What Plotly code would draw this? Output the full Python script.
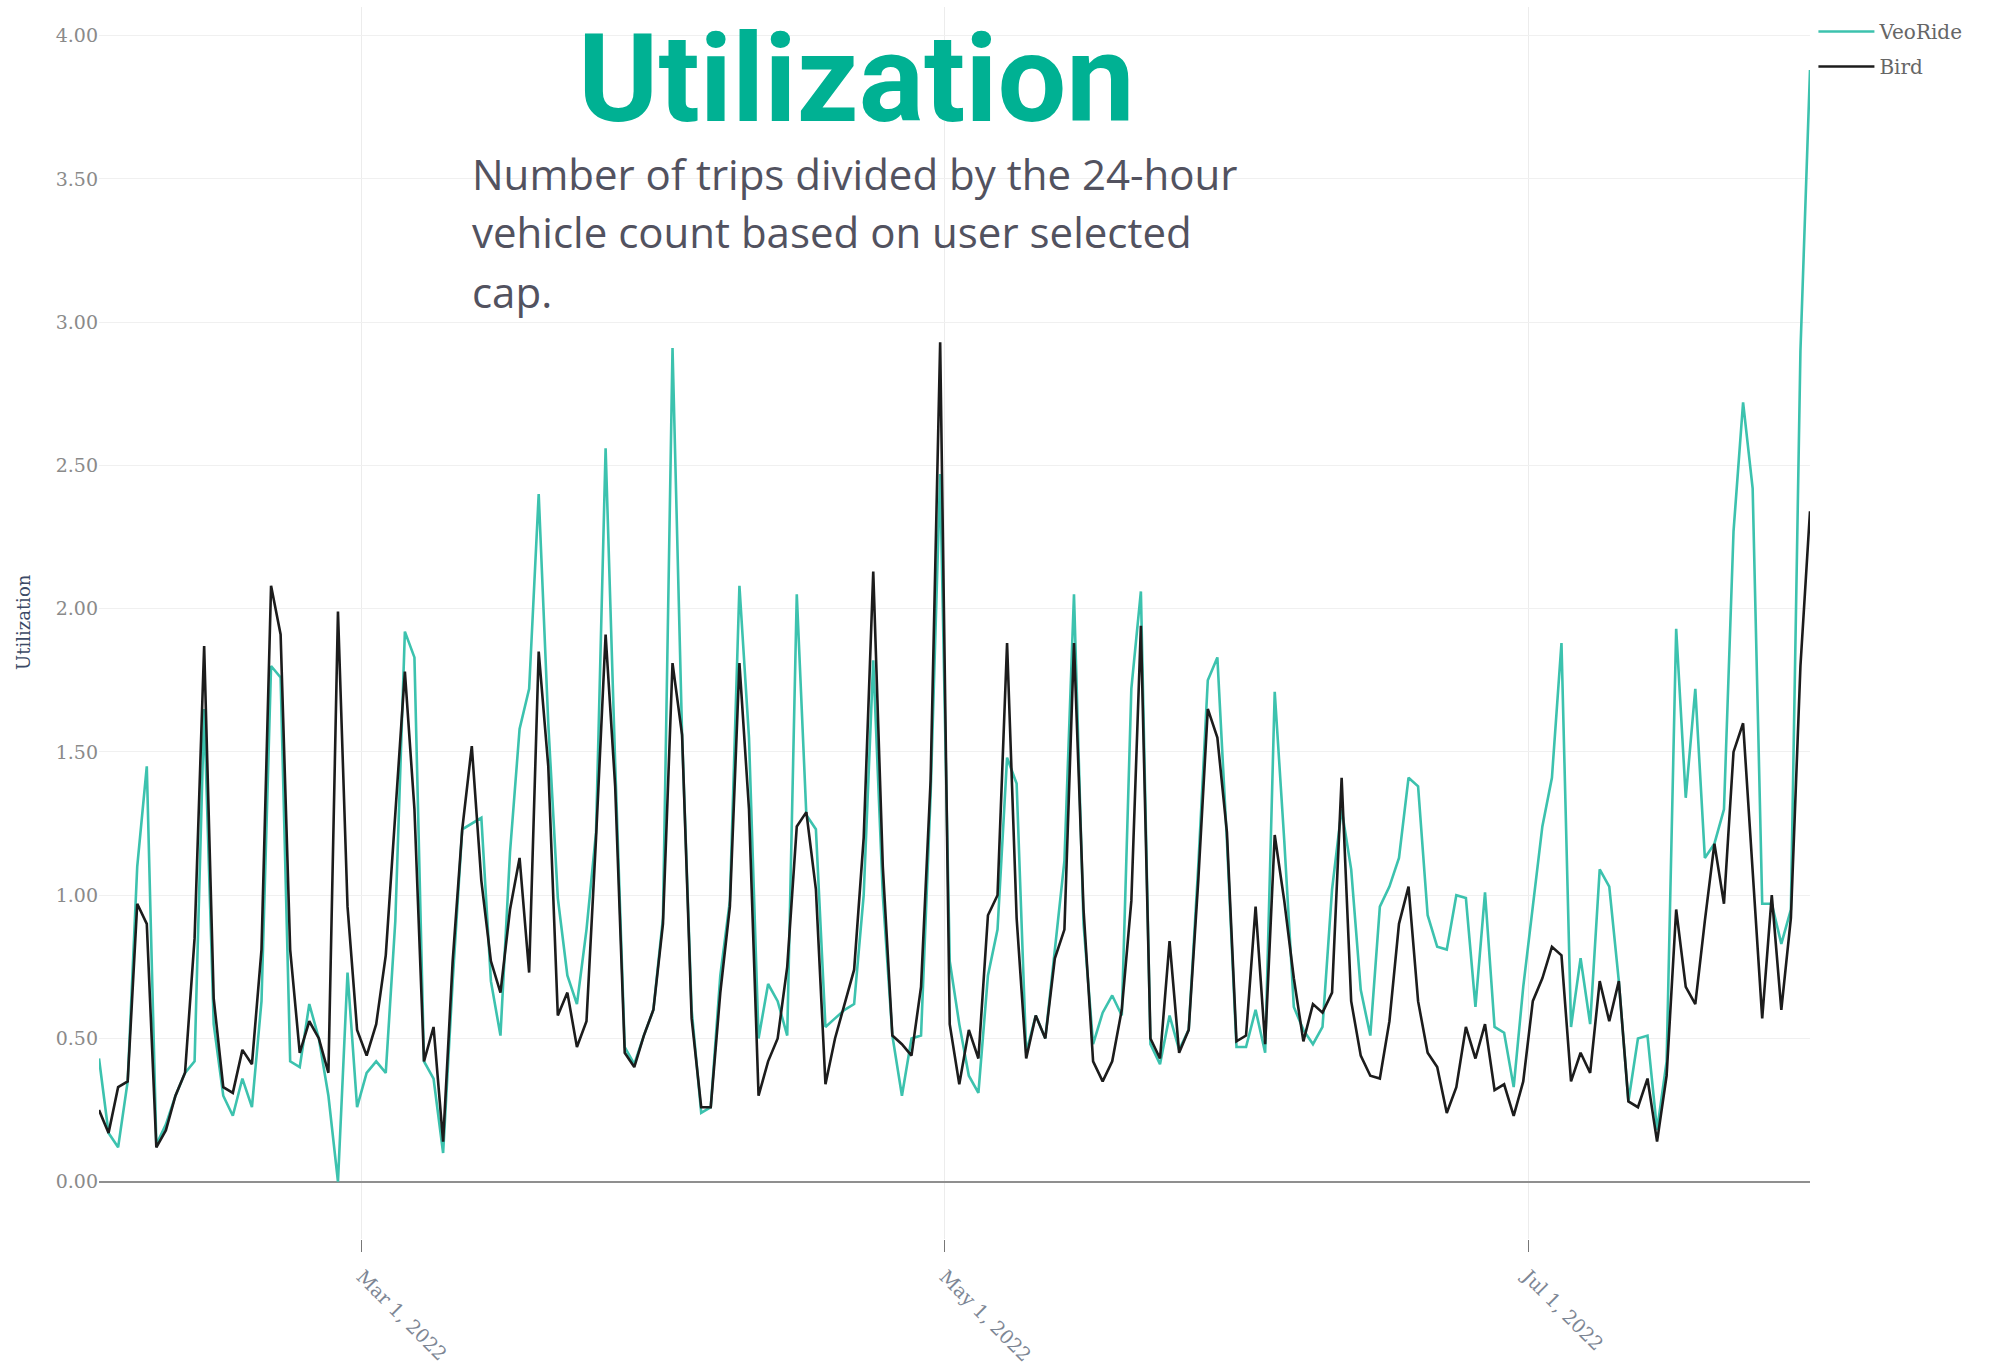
import plotly.graph_objects as go
import pandas as pd

# ---------------- data ----------------
start_date = "2022-02-01 12:00"

veoride = [0.43, 0.17, 0.12, 0.35, 1.10, 1.45, 0.13, 0.20, 0.30, 0.38,
           0.42, 1.65, 0.55, 0.30, 0.23, 0.36, 0.26, 0.63, 1.80, 1.76,
           0.42, 0.40, 0.62, 0.50, 0.30, 0.00, 0.73, 0.26, 0.38, 0.42,
           0.38, 0.91, 1.92, 1.83, 0.42, 0.36, 0.10, 0.70, 1.23, 1.25,
           1.27, 0.70, 0.51, 1.15, 1.58, 1.72, 2.40, 1.60, 0.99, 0.72,
           0.62, 0.88, 1.22, 2.56, 1.46, 0.47, 0.41, 0.51, 0.60, 0.92,
           2.91, 1.56, 0.60, 0.24, 0.26, 0.72, 0.98, 2.08, 1.55, 0.50,
           0.69, 0.63, 0.51, 2.05, 1.28, 1.23, 0.54, 0.57, 0.60, 0.62,
           1.00, 1.82, 1.00, 0.51, 0.30, 0.50, 0.51, 1.35, 2.47, 0.77,
           0.55, 0.37, 0.31, 0.72, 0.88, 1.48, 1.39, 0.45, 0.58, 0.50,
           0.82, 1.12, 2.05, 0.90, 0.48, 0.59, 0.65, 0.58, 1.72, 2.06,
           0.48, 0.41, 0.58, 0.46, 0.53, 1.10, 1.75, 1.83, 1.19, 0.47,
           0.47, 0.60, 0.45, 1.71, 1.19, 0.61, 0.53, 0.48, 0.54, 1.02,
           1.30, 1.09, 0.67, 0.51, 0.96, 1.03, 1.13, 1.41, 1.38, 0.93,
           0.82, 0.81, 1.00, 0.99, 0.61, 1.01, 0.54, 0.52, 0.33, 0.68,
           0.96, 1.24, 1.41, 1.88, 0.54, 0.78, 0.55, 1.09, 1.03, 0.70,
           0.28, 0.50, 0.51, 0.18, 0.42, 1.93, 1.34, 1.72, 1.13, 1.18,
           1.30, 2.27, 2.72, 2.42, 0.97, 0.97, 0.83, 0.95, 2.90, 3.88]

bird = [0.25, 0.17, 0.33, 0.35, 0.97, 0.90, 0.12, 0.18, 0.30, 0.38,
        0.85, 1.87, 0.64, 0.33, 0.31, 0.46, 0.41, 0.81, 2.08, 1.91,
        0.81, 0.45, 0.56, 0.50, 0.38, 1.99, 0.96, 0.53, 0.44, 0.55,
        0.79, 1.28, 1.78, 1.30, 0.42, 0.54, 0.14, 0.77, 1.23, 1.52,
        1.05, 0.77, 0.66, 0.95, 1.13, 0.73, 1.85, 1.45, 0.58, 0.66,
        0.47, 0.56, 1.20, 1.91, 1.38, 0.45, 0.40, 0.51, 0.60, 0.90,
        1.81, 1.56, 0.57, 0.26, 0.26, 0.66, 0.96, 1.81, 1.30, 0.30,
        0.42, 0.50, 0.75, 1.24, 1.29, 1.02, 0.34, 0.50, 0.62, 0.74,
        1.20, 2.13, 1.10, 0.51, 0.48, 0.44, 0.68, 1.40, 2.93, 0.55,
        0.34, 0.53, 0.43, 0.93, 1.00, 1.88, 0.92, 0.43, 0.58, 0.50,
        0.78, 0.88, 1.88, 0.95, 0.42, 0.35, 0.42, 0.60, 0.98, 1.94,
        0.50, 0.43, 0.84, 0.45, 0.53, 1.05, 1.65, 1.55, 1.22, 0.49,
        0.51, 0.96, 0.48, 1.21, 0.98, 0.71, 0.49, 0.62, 0.59, 0.66,
        1.41, 0.63, 0.44, 0.37, 0.36, 0.56, 0.90, 1.03, 0.63, 0.45,
        0.40, 0.24, 0.33, 0.54, 0.43, 0.55, 0.32, 0.34, 0.23, 0.35,
        0.63, 0.71, 0.82, 0.79, 0.35, 0.45, 0.38, 0.70, 0.56, 0.70,
        0.28, 0.26, 0.36, 0.14, 0.37, 0.95, 0.68, 0.62, 0.91, 1.18,
        0.97, 1.50, 1.60, 1.07, 0.57, 1.00, 0.60, 0.92, 1.80, 2.34]

dates = pd.date_range(start_date, periods=len(veoride), freq="D")

x_tick_vals = ["2022-03-01", "2022-05-01", "2022-07-01"]
x_tick_text = ["Mar 1, 2022", "May 1, 2022", "Jul 1, 2022"]

title_text = "Utilization"
subtitle_lines = ["Number of trips divided by the 24-hour",
                  "vehicle count based on user selected",
                  "cap."]

# ---------------- figure ----------------
W, H = 1991, 1368
ML, MR, MT, MB = 99, 181, 7, 129
PW, PH = W - ML - MR, H - MT - MB


def px(xpix):
    return (xpix - ML) / PW


def py(ypix):
    return (H - MB - ypix) / PH


fig = go.Figure()
fig.add_trace(go.Scatter(x=dates, y=veoride, name="VeoRide", mode="lines",
                         legend="legend",
                         line=dict(color="#3CC2AE", width=2.6)))
fig.add_trace(go.Scatter(x=dates, y=bird, name="Bird", mode="lines",
                         legend="legend2",
                         line=dict(color="#1c1c1c", width=2.6)))

axis_font = "DejaVu Serif"
legend_common = dict(x=1.002, xanchor="left", yanchor="top", itemwidth=56,
                     font=dict(family=axis_font, size=20, color="#666666"),
                     bgcolor="rgba(0,0,0,0)")

fig.update_layout(
    width=W, height=H,
    margin=dict(l=ML, r=MR, t=MT, b=MB, pad=0, autoexpand=False),
    paper_bgcolor="white", plot_bgcolor="white",
    showlegend=True,
    legend=dict(y=py(12), **legend_common),
    legend2=dict(y=py(47), **legend_common),
    xaxis=dict(
        range=[dates[0], dates[-1]],
        automargin=False,
        tickmode="array", tickvals=x_tick_vals, ticktext=x_tick_text,
        tickangle=45,
        showgrid=True, gridcolor="#ececec", gridwidth=1,
        zeroline=False, showline=False,
        ticks="outside", ticklen=12, tickcolor="#777777", tickwidth=1,
        ticklabelstandoff=6,
        tickfont=dict(family=axis_font, size=19, color="#7d8694"),
    ),
    yaxis=dict(
        range=[-0.2, 4.1],
        automargin=False,
        tick0=0, dtick=0.5, tickformat=".2f",
        showgrid=True, gridcolor="#f0f0f0", gridwidth=1,
        zeroline=True, zerolinecolor="#8f8f8f", zerolinewidth=2,
        showline=False, ticks="",
        tickfont=dict(family=axis_font, size=19, color="#8a8a8a"),
    ),
)

annotations = [
    dict(text="<b>" + title_text + "</b>", x=px(856), y=py(80),
         xref="paper", yref="paper", xanchor="center", yanchor="middle",
         showarrow=False,
         font=dict(family="Roboto", size=122, color="#00B193")),
    dict(text="Utilization", x=px(23), y=py(622), xref="paper", yref="paper",
         xanchor="center", yanchor="middle", textangle=-90, showarrow=False,
         font=dict(family=axis_font, size=18, color="#3b4a66")),
]
for line, ycen in zip(subtitle_lines, [174, 232, 291]):
    annotations.append(dict(text=line, x=px(470), y=py(ycen),
                            xref="paper", yref="paper",
                            xanchor="left", yanchor="middle", showarrow=False,
                            font=dict(family="Open Sans", size=42,
                                      color="#52525f")))
fig.update_layout(annotations=annotations)

fig.write_html("out.html", include_plotlyjs=True,
               config={"displayModeBar": False},
               post_script="document.body.style.margin='0';document.body.style.overflow='hidden';")
